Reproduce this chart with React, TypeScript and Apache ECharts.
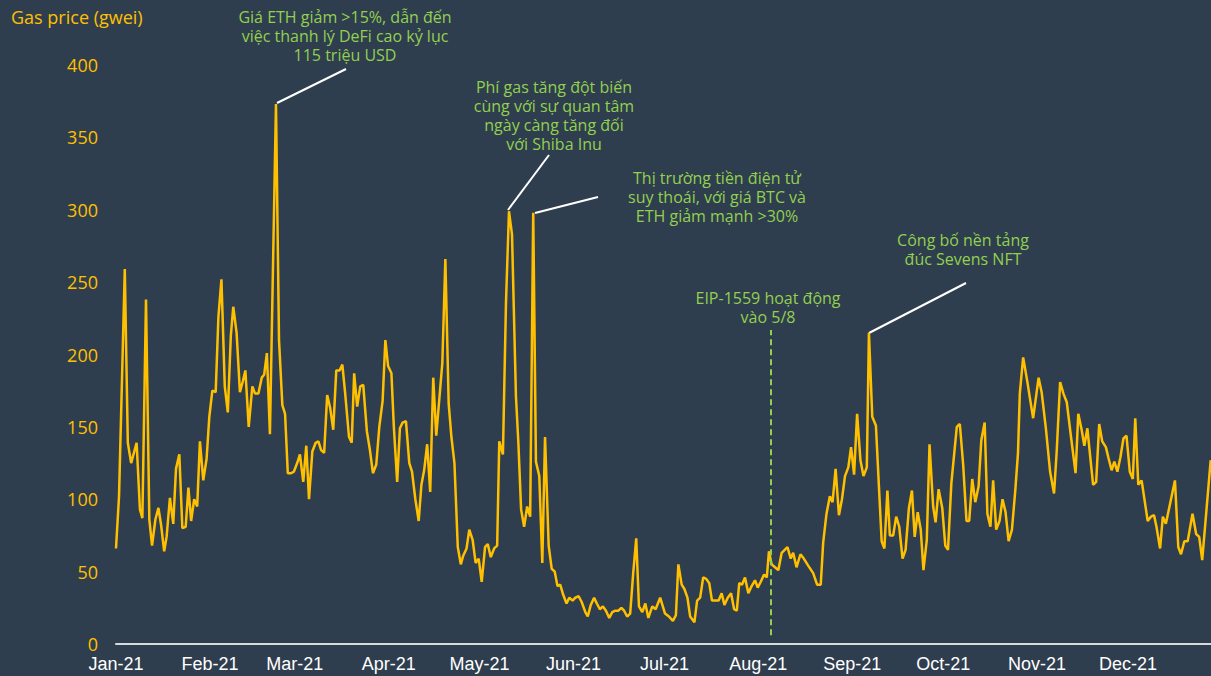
import React, { useEffect, useRef } from "react";
import * as echarts from "echarts";

// Tick labels of the month axis
const MONTH_LABELS = ["Jan-21", "Feb-21", "Mar-21", "Apr-21", "May-21", "Jun-21", "Jul-21", "Aug-21", "Sep-21", "Oct-21", "Nov-21", "Dec-21"];

// Gas price (gwei), vertices; days counted from 1 Jan 2021
const DAYS_H1 = [
  0, 1, 2.9, 3.9, 5, 6.8, 7.9, 8.7, 9.9, 11, 11.9, 13, 14, 14.9, 15.9, 16.7, 17.8, 18.9, 19.8, 20.9,
  21.9, 23, 23.9, 24.8, 25.8, 26.8, 27.7, 28.8, 29.9, 30.8, 31.8, 32.9, 33.8, 34.8, 35.9, 36.9, 37.9, 38.7, 39.8, 40.9,
  41.8, 42.7, 43.8, 45, 45.9, 47, 48.1, 48.9, 49.8, 50.8, 52.8, 53.8, 54.9, 55.8, 56.7, 57.8, 58.7, 59.8, 60.7, 61.8,
  62.8, 63.7, 64.8, 65.9, 66.8, 67.7, 68.7, 69.7, 70.7, 71.7, 72.7, 73.8, 74.7, 75.6, 76.9, 77.8, 78.6, 79.6, 80.6, 81.6,
  82.8, 83.8, 84.8, 85.9, 86.9, 88, 88.9, 89.8, 90.9, 91.7, 92.8, 93.7, 94.6, 95.7, 96.8, 97.7, 98.8, 99.9, 100.8, 101.7,
  102.7, 103.7, 104.7, 105.7, 106.7, 107.7, 108.7, 109.8, 110.7, 111.7, 112.8, 113.8, 114.6, 115.7, 116.6, 117.7, 118.7, 119.7, 120.7, 121.8,
  122.7, 123.7, 124.8, 125.8, 126.5, 127.7, 128.7, 129.7, 130.7, 132, 132.8, 133.7, 134.7, 135.7, 136.7, 137.7, 138.6, 139.7, 140.7, 141.6,
  142.8, 143.8, 144.8, 145.7, 146.6, 147.6, 148.7, 149.6, 150.7, 151.6, 152.7, 153.7, 154.9, 155.7, 156.7, 157.8, 158.7, 159.7, 160.7, 161.7,
  162.8, 163.8, 164.8, 165.8, 166.8, 167.7, 168.7, 169.7, 170.7, 171.7, 172.6, 173.7, 174.7, 175.7, 177, 178.1, 179.6, 181.2
];
const GAS_H1 = [
  66, 102, 259, 139, 125, 139, 93, 87, 238, 86, 68, 86, 94, 82, 64, 74, 101, 83, 121, 131,
  80, 81, 108, 85, 100, 95, 140, 113, 128, 157, 175, 174, 226, 252, 178, 160, 213, 233, 215, 174,
  181, 189, 150, 178, 173, 173, 184, 186, 201, 145, 373, 210, 165, 159, 118, 118, 119, 125, 131, 112,
  137, 100, 133, 139, 140, 134, 132, 172, 163, 148, 189, 189, 193, 174, 143, 139, 187, 164, 178, 179,
  147, 134, 118, 124, 150, 168, 210, 192, 187, 150, 112, 149, 153, 154, 125, 119, 100, 85, 110, 120,
  138, 105, 184, 144, 169, 194, 266, 166, 143, 125, 67, 55, 61, 66, 79, 72, 56, 59, 43, 67,
  69, 60, 66, 68, 140, 131, 235, 299, 283, 171, 139, 93, 81, 95, 88, 298, 126, 116, 56, 143,
  68, 52, 50, 40, 41, 34, 28, 32, 30, 32, 33, 29, 22, 19, 27, 32, 28, 24, 26, 23,
  18, 22, 23, 23, 25, 23, 19, 21, 49, 73, 26, 22, 28, 18, 26, 24, 32, 21
];
const DAYS_H2 = [
  182.5, 183.8, 184.8, 185.6, 186.7, 187.6, 188.6, 189.5, 190.9, 191.8, 192.8, 193.8, 194.8, 195.8, 196.7, 197.9, 198.9, 199.9, 200.8, 201.9,
  203, 204, 204.9, 205.7, 206.6, 207.6, 208.7, 209.8, 210.9, 211.8, 212.8, 213.9, 214.8, 215.5, 216.4, 217.5, 218.6, 219.7, 221.6, 222.7,
  223.5, 224.6, 225.9, 227, 228.5, 230.1, 231.4, 232.6, 233.4, 234.5, 235.6, 236.5, 237.5, 238.6, 239.6, 240.6, 241.7, 242.6, 243.6, 244.6,
  245.7, 246.7, 247.8, 248.5, 249.6, 250.8, 252.7, 253.6, 254.6, 255.4, 256.5, 257.5, 258.5, 259.6, 260.6, 261.7, 262.7, 263.6, 264.6, 265.6,
  266.5, 267.6, 268.5, 269.7, 270.5, 271.5, 272.7, 273.7, 274.6, 275.7, 277.5, 278.5, 279.6, 280.7, 281.6, 282.6, 283.6, 284.7, 285.6, 286.7,
  287.6, 288.6, 289.5, 290.5, 291.6, 292.6, 293.6, 294.6, 295.7, 296.8, 297.7, 298.3, 299.4, 300.8, 301.7, 302.7, 304.5, 305.5, 306.9, 308.3,
  309.6, 310.5, 311.6, 312.7, 313.8, 315.2, 316.7, 317.6, 318.7, 319.6, 320.6, 321.6, 322.5, 323.5, 324.5, 325.5, 326.7, 327.5, 328.6, 329.5,
  330.5, 331.5, 332.5, 333.5, 334.6, 335.6, 336.4, 337.4, 338.5, 340.5, 341.6, 342.6, 343.4, 344.6, 345.5, 346.5, 349.5, 350.6, 351.5, 352.6,
  353.7, 355.3, 356.5, 357.5, 358.5, 361.3
];
const GAS_H2 = [
  19, 16, 20, 55, 41, 38, 32, 19, 15, 30, 32, 46, 45, 42, 30, 30, 30, 35, 27, 32,
  35, 24, 23, 42, 41, 46, 35, 40, 44, 39, 43, 48, 46, 64, 55, 53, 51, 63, 67, 59,
  63, 53, 62, 59, 54, 49, 41, 41, 70, 90, 102, 98, 121, 89, 100, 116, 122, 136, 117, 159,
  127, 116, 122, 215, 157, 151, 71, 66, 106, 75, 75, 88, 81, 59, 65, 94, 106, 74, 91, 79,
  51, 72, 138, 95, 84, 107, 94, 68, 65, 111, 150, 152, 124, 85, 85, 114, 98, 109, 141, 153,
  90, 81, 113, 79, 85, 100, 91, 71, 79, 106, 132, 173, 198, 181, 169, 156, 184, 174, 149, 119,
  104, 134, 181, 173, 167, 143, 118, 159, 148, 137, 149, 128, 110, 112, 152, 140, 136, 129, 120, 126,
  119, 129, 142, 144, 119, 114, 156, 110, 113, 85, 88, 89, 81, 66, 88, 83, 113, 67, 62, 71,
  71, 90, 76, 74, 58, 127
];

// EIP-1559 activation (5 Aug 2021) and the dashed marker's extent in gwei
const EIP_DAY = 216;
const EIP_RANGE = [6, 217];
const AXIS_END_DAY = 361.4;

const DAY_MS = 86400000;
const T0 = new Date(2021, 0, 1).getTime();

const GREEN = "#92d050";
const YELLOW = "#ffc000";
const BG = "#2f3e4e";

export default function App() {
  const ref = useRef<HTMLDivElement>(null);
  useEffect(() => {
    if (!ref.current) return;
    const chart = echarts.init(ref.current, null, { renderer: "svg" });
    const days = DAYS_H1.concat(DAYS_H2);
    const gas = GAS_H1.concat(GAS_H2);
    const data = days.map((d, i) => [T0 + d * DAY_MS, gas[i]]);
    const annFont = "16px 'Open Sans'";
    const ann = (text: string, x: number, y: number) => ({
      type: "text",
      x,
      y,
      silent: true,
      style: { text, fill: GREEN, font: annFont, textAlign: "center", textVerticalAlign: "top", lineHeight: 19 },
    });
    const lead = (x1: number, y1: number, x2: number, y2: number) => ({
      type: "line",
      silent: true,
      shape: { x1, y1, x2, y2 },
      style: { stroke: "#ffffff", lineWidth: 2 },
    });
    chart.setOption({
      animation: false,
      backgroundColor: BG,
      grid: { left: 116, right: 0, top: 65, bottom: 32 },
      xAxis: {
        type: "time",
        min: T0,
        max: T0 + AXIS_END_DAY * DAY_MS,
        splitNumber: 12,
        minInterval: 28 * DAY_MS,
        maxInterval: 31 * DAY_MS,
        axisLine: { show: true, lineStyle: { color: "#d9d9d9", width: 2 } },
        axisTick: { show: false },
        splitLine: { show: false },
        axisLabel: {
          color: "#ffffff",
          fontFamily: "'Liberation Sans', Arial",
          fontSize: 18,
          margin: 11,
          formatter: (v: number) => MONTH_LABELS[new Date(v).getMonth()],
        },
      },
      yAxis: {
        type: "value",
        min: 0,
        max: 400,
        interval: 50,
        axisLine: { show: false },
        axisTick: { show: false },
        splitLine: { show: false },
        axisLabel: { color: YELLOW, fontFamily: "'Open Sans'", fontSize: 18, margin: 18 },
      },
      series: [
        {
          type: "line",
          data,
          showSymbol: false,
          lineStyle: { color: YELLOW, width: 2.5 },
          itemStyle: { color: YELLOW },
          markLine: {
            silent: true,
            symbol: "none",
            label: { show: false },
            lineStyle: { type: [6, 4], color: GREEN, width: 2 },
            data: [[
              { coord: [T0 + EIP_DAY * DAY_MS, EIP_RANGE[0]] },
              { coord: [T0 + EIP_DAY * DAY_MS, EIP_RANGE[1]] },
            ]],
          },
        },
      ],
      graphic: [
        {
          type: "text",
          left: 11,
          top: 8,
          silent: true,
          style: { text: "Gas price (gwei)", fill: YELLOW, font: "18px 'Open Sans'" },
        },
        ann("Giá ETH giảm >15%, dẫn đến\nviệc thanh lý DeFi cao kỷ lục\n115 triệu USD", 345, 7),
        ann("Phí gas tăng đột biến\ncùng với sự quan tâm\nngày càng tăng đối\nvới Shiba Inu", 554, 77),
        ann("Thị trường tiền điện tử\nsuy thoái, với giá BTC và\nETH giảm mạnh >30%", 717, 168),
        ann("Công bố nền tảng\nđúc Sevens NFT", 963, 230),
        ann("EIP-1559 hoạt động\nvào 5/8", 768, 288),
        lead(277, 103, 346, 69),
        lead(508, 210, 549, 155),
        lead(535, 213, 598, 197),
        lead(869, 333, 966, 283),
      ],
    });
    return () => chart.dispose();
  }, []);
  return (
    <div style={{ position: "fixed", left: 0, top: 0, width: 1211, height: 676, overflow: "hidden", background: BG }}>
      <div ref={ref} style={{ width: 1211, height: 676 }} />
    </div>
  );
}
